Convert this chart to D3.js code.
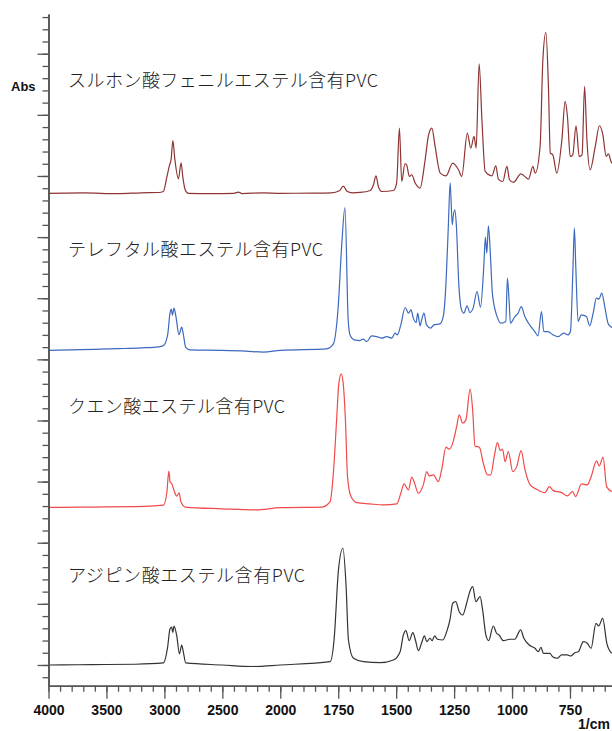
<!DOCTYPE html>
<html><head><meta charset="utf-8">
<script src="https://cdn.jsdelivr.net/npm/d3@7/dist/d3.min.js"></script>
<style>body{margin:0;background:#fff;overflow:hidden}</style>
</head><body>
<svg id="chart" width="612" height="731"></svg>
<script>
// ---------- data ----------
const labels = ["スルホン酸フェニルエステル含有PVC","テレフタル酸エステル含有PVC","クエン酸エステル含有PVC","アジピン酸エステル含有PVC"];
const xMajorTicks = [4000,3500,3000,2500,2000,1750,1500,1250,1000,750];
const xMinorTicks = d3.range(4000,2000,-100).concat(d3.range(2000,399,-50));
const yMajorTicks = d3.range(0,11,1);
const yMinorTicks = d3.range(-0.2,10.7,0.2);
const xUnit = "1/cm";
const yUnit = "Abs";

const sulfonate = [[4000,7.717],[3700,7.722],[3400,7.710],[3200,7.725],[3050,7.730],[3009,7.746],[2979,7.982],[2957,8.169],[2942,8.275],[2927,8.579],[2910,8.275],[2879,7.953],[2856,8.216],[2841,7.982],[2821,7.776],[2793,7.717],[2600,7.712],[2400,7.717],[2361,7.737],[2330,7.712],[2150,7.725],[2000,7.717],[1850,7.720],[1780,7.725],[1745,7.758],[1728,7.835],[1712,7.750],[1690,7.725],[1656,7.731],[1612,7.763],[1598,7.856],[1587,8.003],[1577,7.828],[1562,7.746],[1512,7.763],[1498,7.884],[1486,8.784],[1476,7.910],[1462,8.200],[1455,8.183],[1443,7.992],[1433,8.020],[1418,7.884],[1397,7.802],[1375,8.265],[1361,8.658],[1346,8.784],[1332,8.483],[1310,8.047],[1285,8.003],[1256,8.211],[1231,8.101],[1217,7.992],[1193,8.702],[1178,8.457],[1164,8.647],[1155,8.457],[1142,9.836],[1130,8.920],[1116,8.074],[1087,8.003],[1070,8.167],[1059,7.949],[1040,7.910],[1022,8.156],[1011,7.938],[994,7.894],[962,8.036],[929,7.949],[910,8.156],[900,8.047],[879,8.483],[867,9.902],[854,10.349],[843,9.465],[835,8.375],[824,8.347],[807,8.047],[785,8.592],[771,9.219],[761,8.974],[749,8.319],[738,8.347],[724,8.822],[710,8.319],[698,8.347],[687,9.465],[677,8.592],[663,8.101],[641,8.483],[623,8.822],[608,8.674],[594,8.319],[584,8.363],[573,8.237],[560,8.18]];

const terephthalate = [[4000,5.147],[3800,5.155],[3600,5.164],[3400,5.175],[3200,5.188],[3050,5.205],[3009,5.224],[2972,5.401],[2952,5.753],[2940,5.823],[2931,5.723],[2917,5.840],[2900,5.694],[2874,5.401],[2851,5.529],[2836,5.401],[2816,5.195],[2779,5.154],[2500,5.147],[2300,5.135],[2145,5.118],[2000,5.147],[1800,5.172],[1771,5.254],[1750,5.869],[1735,6.867],[1721,7.483],[1707,5.635],[1698,5.385],[1681,5.319],[1656,5.308],[1642,5.331],[1627,5.291],[1606,5.385],[1584,5.373],[1562,5.347],[1541,5.373],[1519,5.347],[1505,5.429],[1495,5.401],[1480,5.565],[1461,5.848],[1447,5.756],[1436,5.810],[1426,5.674],[1414,5.602],[1407,5.756],[1397,5.548],[1390,5.646],[1380,5.756],[1369,5.565],[1351,5.511],[1337,5.565],[1311,5.581],[1297,5.700],[1285,6.247],[1275,7.173],[1267,7.889],[1258,7.201],[1254,7.337],[1247,7.447],[1240,7.173],[1230,6.247],[1218,5.810],[1208,5.756],[1194,5.876],[1182,5.766],[1168,5.838],[1151,6.110],[1136,5.854],[1122,6.519],[1115,7.000],[1109,6.738],[1102,7.185],[1093,6.683],[1085,6.083],[1067,5.728],[1046,5.592],[1027,5.619],[1020,6.329],[1013,5.974],[1007,5.592],[988,5.700],[974,5.756],[960,5.864],[945,5.700],[924,5.565],[902,5.455],[888,5.385],[873,5.782],[863,5.455],[845,5.455],[823,5.401],[801,5.373],[777,5.429],[758,5.401],[748,5.455],[737,6.519],[731,7.147],[725,6.519],[715,5.619],[701,5.728],[679,5.700],[665,5.548],[650,5.756],[636,6.002],[625,5.985],[613,6.083],[600,5.864],[586,5.592],[575,5.537],[560,5.515]];

const citrate = [[4000,2.578],[3750,2.582],[3500,2.586],[3250,2.590],[3009,2.614],[2979,2.818],[2962,3.170],[2951,2.995],[2936,2.966],[2916,2.848],[2893,2.761],[2873,2.818],[2858,2.673],[2821,2.584],[2500,2.555],[2216,2.537],[2000,2.573],[1820,2.584],[1785,2.673],[1770,3.191],[1757,4.010],[1748,4.583],[1737,4.763],[1728,4.583],[1719,4.010],[1710,3.082],[1695,2.755],[1670,2.656],[1613,2.635],[1555,2.619],[1497,2.635],[1480,2.810],[1466,2.962],[1447,2.864],[1433,3.072],[1423,3.000],[1404,2.810],[1383,2.946],[1368,3.164],[1357,3.093],[1340,3.110],[1318,3.000],[1304,3.191],[1285,3.563],[1271,3.530],[1254,3.655],[1239,3.900],[1228,4.092],[1213,3.956],[1199,4.010],[1181,4.512],[1170,4.173],[1160,3.584],[1141,3.563],[1124,3.301],[1106,3.110],[1092,3.110],[1077,3.409],[1063,3.638],[1051,3.507],[1041,3.530],[1030,3.327],[1016,3.491],[997,3.164],[980,3.245],[961,3.507],[944,3.191],[922,2.946],[894,2.876],[858,2.820],[839,2.918],[822,2.853],[786,2.820],[762,2.766],[739,2.836],[726,2.755],[700,2.962],[676,2.946],[661,3.056],[635,3.339],[624,3.257],[607,3.399],[592,2.918],[570,2.836]];

const adipate = [[4000,0.000],[3750,0.004],[3500,0.008],[3250,0.012],[3009,0.033],[2972,0.296],[2952,0.589],[2937,0.619],[2928,0.532],[2917,0.637],[2893,0.473],[2870,0.180],[2851,0.327],[2836,0.208],[2816,0.033],[2500,0.000],[2240,-0.025],[2000,0.000],[1785,0.054],[1768,0.409],[1749,1.555],[1730,1.910],[1716,1.281],[1706,0.409],[1684,0.110],[1641,0.054],[1569,0.038],[1512,0.082],[1483,0.218],[1469,0.491],[1458,0.561],[1444,0.398],[1428,0.529],[1417,0.409],[1404,0.234],[1390,0.365],[1378,0.475],[1368,0.381],[1354,0.437],[1345,0.398],[1334,0.475],[1322,0.421],[1299,0.409],[1282,0.545],[1268,0.736],[1256,1.010],[1243,1.036],[1228,0.872],[1213,0.818],[1196,1.010],[1181,1.216],[1170,1.281],[1156,1.036],[1138,1.118],[1127,0.900],[1113,0.491],[1101,0.398],[1081,0.638],[1067,0.519],[1056,0.491],[1038,0.398],[1010,0.421],[988,0.421],[963,0.573],[949,0.437],[926,0.327],[901,0.273],[887,0.218],[875,0.290],[865,0.191],[837,0.191],[825,0.136],[805,0.110],[786,0.164],[762,0.164],[747,0.147],[729,0.201],[714,0.218],[692,0.381],[675,0.355],[659,0.273],[638,0.682],[626,0.638],[609,0.764],[591,0.355],[570,0.191]];

const spectra = [sulfonate, terephthalate, citrate, adipate];
const colors = ["#8e3434","#3d69be","#f04a4a","#333333"];

// ---------- layout ----------
const svg = d3.select("#chart");
const W = 612, H = 731;
const plotLeft = 48.5, axisY = 685.7, plotTop = 14;

const x = d3.scaleLinear().domain([4000, 2000, 400]).range([plotLeft, 280.3, 651.1]);
const y = d3.scaleLinear().domain([-0.339, 10.65]).range([axisY, plotTop]);

svg.append("defs").append("clipPath").attr("id","plotclip")
  .append("rect").attr("x", plotLeft).attr("y", 0).attr("width", W - plotLeft).attr("height", axisY);

// spectra
const line = d3.line().x(d => x(d[0])).y(d => y(d[1])).curve(d3.curveMonotoneX);
const g = svg.append("g").attr("clip-path","url(#plotclip)");
spectra.forEach((s, i) => {
  g.append("path").datum(s).attr("d", line)
    .attr("fill","none").attr("stroke", colors[i]).attr("stroke-width", 1.2)
    .attr("stroke-linejoin","round");
});

// labels
const labelY = [87, 256, 413, 582];
const labelW = [310, 255, 217, 237];
labels.forEach((t, i) => {
  svg.append("text").attr("x", 68).attr("y", labelY[i])
    .attr("font-family", "'Noto Sans CJK JP', 'Noto Sans', sans-serif")
    .attr("font-size", 18).attr("font-weight", 300).attr("fill", "#222")
    .attr("textLength", labelW[i]).attr("lengthAdjust", "spacing")
    .text(t);
});

// x axis
const axisColor = "#555";
const xMinor = svg.append("g").attr("transform", `translate(0,${axisY})`)
  .call(d3.axisBottom(x).tickValues(xMinorTicks).tickSize(6).tickSizeOuter(0).tickFormat(""));
const xMajor = svg.append("g").attr("transform", `translate(0,${axisY})`)
  .call(d3.axisBottom(x).tickValues(xMajorTicks).tickSize(13).tickSizeOuter(0).tickPadding(6).tickFormat(d3.format("d")));
[xMinor, xMajor].forEach(a => {
  a.select(".domain").attr("stroke", axisColor).attr("stroke-width", 1.6);
  a.selectAll(".tick line").attr("stroke", axisColor).attr("stroke-width", 1.3);
});
xMajor.selectAll("text").attr("font-family","'Liberation Sans', Arial, sans-serif")
  .attr("font-size", 14).attr("font-weight","bold").attr("fill","#111");
svg.append("text").attr("x", 578).attr("y", 729)
  .attr("font-family","'Liberation Sans', Arial, sans-serif").attr("font-size", 14)
  .attr("font-weight","bold").attr("fill","#111").text(xUnit);

// y axis
const yMinor = svg.append("g").attr("transform", `translate(${plotLeft},0)`)
  .call(d3.axisLeft(y).tickValues(yMinorTicks).tickSize(6).tickSizeOuter(0).tickFormat(""));
const yMajor = svg.append("g").attr("transform", `translate(${plotLeft},0)`)
  .call(d3.axisLeft(y).tickValues(yMajorTicks).tickSize(11).tickSizeOuter(0).tickFormat(""));
[yMinor, yMajor].forEach(a => {
  a.select(".domain").attr("stroke", axisColor).attr("stroke-width", 1.6);
  a.selectAll(".tick line").attr("stroke", axisColor).attr("stroke-width", 1.3);
});
svg.append("text").attr("x", 11).attr("y", 91)
  .attr("font-family","'Liberation Sans', Arial, sans-serif").attr("font-size", 13)
  .attr("font-weight","bold").attr("fill","#111").text(yUnit);
</script>
</body></html>
